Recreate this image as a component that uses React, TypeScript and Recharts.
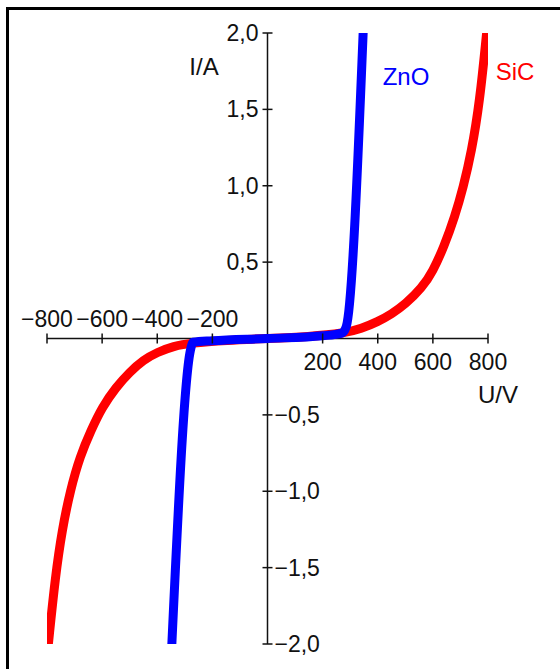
import { LineChart, Line, XAxis, YAxis, ReferenceLine, ReferenceDot } from 'recharts';

// axis ticks (U in V, I in A)
const xTicks = [-800, -600, -400, -200, 200, 400, 600, 800];
const xTickLabels = ['−800', '−600', '−400', '−200', '200', '400', '600', '800'];
const yTicks = [2, 1.5, 1, 0.5, -0.5, -1, -1.5, -2];
const yTickLabels = ['2,0', '1,5', '1,0', '0,5', '−0,5', '−1,0', '−1,5', '−2,0'];

// SiC varistor
const sicU = [-795, -770, -745, -715, -680, -640, -600, -550, -500, -450, -400, -340, -280, -150, 0, 150, 280, 340, 400, 450, 500, 560, 600, 640, 680, 710, 740, 770, 795];
const sicI = [-2.0, -1.56, -1.25, -0.99, -0.77, -0.6, -0.45, -0.32, -0.22, -0.14, -0.09, -0.05, -0.03, -0.012, 0, 0.012, 0.035, 0.065, 0.11, 0.16, 0.225, 0.33, 0.44, 0.6, 0.8, 0.99, 1.22, 1.55, 2.0];

// ZnO varistor
const znoU = [-347, -280, -270, -200, 0, 200, 270, 286, 347];
const znoI = [-2.0, -0.08, -0.025, -0.015, 0, 0.018, 0.035, 0.08, 2.0];

const sicData = sicU.map((u, k) => ({ u, i: sicI[k] }));
const znoData = znoU.map((u, k) => ({ u, i: znoI[k] }));

const font = "'Liberation Sans', Arial, sans-serif";

function XTick({ cx, cy, label, value }: any) {
  const above = value < 0;
  return (
    <g>
      <line x1={cx} y1={cy - 5} x2={cx} y2={cy + 5} stroke="#111" strokeWidth={1.5} />
      <text
        x={cx}
        y={above ? cy - 20 : cy + 23}
        dy="0.35em"
        textAnchor="middle"
        fontFamily={font}
        fontSize={23}
        fill="#111"
      >
        {label}
      </text>
    </g>
  );
}

function YTick({ cx, cy, label, value }: any) {
  const left = value > 0;
  return (
    <g>
      <line x1={cx - 5} y1={cy} x2={cx + 5} y2={cy} stroke="#111" strokeWidth={1.5} />
      <text
        x={left ? cx - 9 : cx + 7}
        y={cy}
        dy="0.35em"
        textAnchor={left ? 'end' : 'start'}
        fontFamily={font}
        fontSize={23}
        fill="#111"
      >
        {label}
      </text>
    </g>
  );
}

export default function App() {
  return (
    <div style={{ position: 'absolute', left: 0, top: 0, width: 560, height: 669, background: '#fff' }}>
      <div
        style={{
          position: 'absolute',
          left: 6,
          top: 7,
          right: 0,
          bottom: 0,
          borderTop: '3px solid #000',
          borderLeft: '3px solid #000',
        }}
      />
      <div style={{ position: 'absolute', left: 0, top: 0 }}>
        <LineChart width={560} height={669} margin={{ top: 33, right: 72, bottom: 25, left: 47 }}>
          <XAxis hide type="number" dataKey="u" domain={[-800, 800]} allowDataOverflow />
          <YAxis hide type="number" dataKey="i" domain={[-2, 2]} allowDataOverflow />
          <ReferenceLine y={0} stroke="#111" strokeWidth={1.5} />
          <ReferenceLine x={0} stroke="#111" strokeWidth={1.5} />
          {xTicks.map((v, k) => (
            <ReferenceDot
              key={'x' + v}
              x={v}
              y={0}
              ifOverflow="visible"
              shape={(p: any) => <XTick {...p} label={xTickLabels[k]} value={v} />}
            />
          ))}
          {yTicks.map((v, k) => (
            <ReferenceDot
              key={'y' + v}
              x={0}
              y={v}
              ifOverflow="visible"
              shape={(p: any) => <YTick {...p} label={yTickLabels[k]} value={v} />}
            />
          ))}
          <Line
            data={sicData}
            dataKey="i"
            type="basis"
            stroke="#ff0000"
            strokeWidth={9}
            strokeLinecap="round"
            dot={false}
            isAnimationActive={false}
          />
          <Line
            data={znoData}
            dataKey="i"
            type="monotone"
            stroke="#0000ff"
            strokeWidth={9}
            strokeLinecap="round"
            dot={false}
            isAnimationActive={false}
          />
          <text x={204} y={67} dy="0.35em" textAnchor="middle" fontFamily={font} fontSize={24} fill="#111">
            I/A
          </text>
          <text x={406} y={77} dy="0.35em" textAnchor="middle" fontFamily={font} fontSize={24} fill="#0000ff">
            ZnO
          </text>
          <text x={515} y={72} dy="0.35em" textAnchor="middle" fontFamily={font} fontSize={24} fill="#ff0000">
            SiC
          </text>
          <text x={498} y={395} dy="0.35em" textAnchor="middle" fontFamily={font} fontSize={24} fill="#111">
            U/V
          </text>
        </LineChart>
      </div>
    </div>
  );
}
